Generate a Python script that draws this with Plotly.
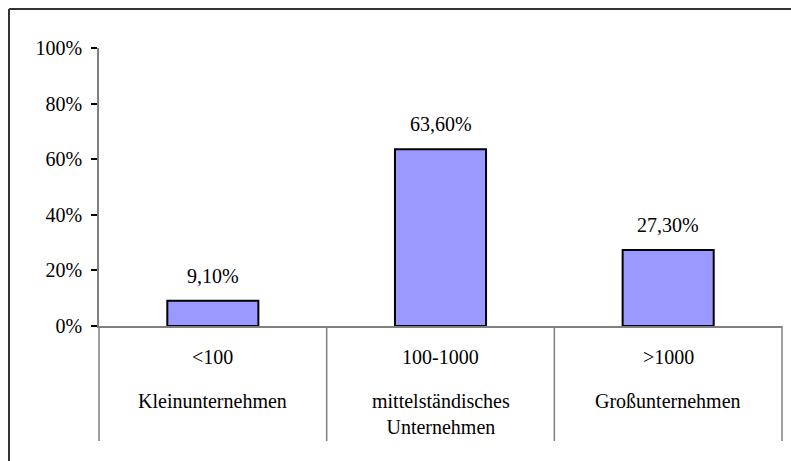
import plotly.graph_objects as go

# Unternehmensgröße (Mitarbeiterzahl) und Anteil in Prozent
size_ranges = ["<100", "100-1000", ">1000"]
company_types = ["Kleinunternehmen", "mittelständisches<br>Unternehmen", "Großunternehmen"]
shares = [9.1, 63.6, 27.3]
y_ticks = [0, 20, 40, 60, 80, 100]

FONT = "Times New Roman, Liberation Serif, serif"
AXIS_GRAY = "#808080"

W, H = 791, 461
M_L, M_R, M_T, M_B = 99, 9, 48, 135
plot_w = W - M_L - M_R
plot_h = H - M_T - M_B
n_cat = len(shares)

def de_percent(v):
    return f"{v:.2f}".replace(".", ",") + "%"

fig = go.Figure(
    go.Bar(
        x=list(range(n_cat)),
        y=shares,
        width=0.4,
        marker=dict(color="#9999FF", line=dict(color="black", width=2)),
        hoverinfo="skip",
    )
)

annotations = []
for i, v in enumerate(shares):
    annotations.append(dict(
        x=i, y=v, xref="x", yref="y", text=de_percent(v), showarrow=False,
        yanchor="middle", yshift=25, font=dict(family=FONT, size=20, color="black"),
    ))
    annotations.append(dict(
        x=i, y=0, xref="x", yref="paper", text=size_ranges[i], showarrow=False,
        yanchor="middle", yshift=-31, font=dict(family=FONT, size=20, color="black"),
    ))
    annotations.append(dict(
        x=i, y=0, xref="x", yref="paper", text=company_types[i], showarrow=False,
        yanchor="top", yshift=-62, align="center",
        font=dict(family=FONT, size=20, color="black"),
    ))

shapes = []
# category separators below the axis (category boundaries in paper units)
sep_bottom = -(441 - (H - M_B)) / plot_h
for k in range(n_cat + 1):
    shapes.append(dict(
        type="line", xref="paper", yref="paper", x0=k / n_cat, x1=k / n_cat,
        y0=0, y1=sep_bottom, line=dict(color=AXIS_GRAY, width=1.5),
    ))
# outer frame (top and left edges)
frame_x = -(M_L - 9) / plot_w
frame_y = 1 + (M_T - 9) / plot_h
right_edge = 1 + M_R / plot_w
bottom_edge = -M_B / plot_h
shapes.append(dict(
    type="line", xref="paper", yref="paper", x0=frame_x, x1=right_edge,
    y0=frame_y, y1=frame_y, line=dict(color="#333333", width=2),
))
shapes.append(dict(
    type="line", xref="paper", yref="paper", x0=frame_x, x1=frame_x,
    y0=frame_y, y1=bottom_edge, line=dict(color="#333333", width=2),
))

fig.update_layout(
    width=W, height=H,
    margin=dict(l=M_L, r=M_R, t=M_T, b=M_B, pad=0),
    paper_bgcolor="white", plot_bgcolor="white",
    showlegend=False,
    font=dict(family=FONT, size=20, color="black"),
    annotations=annotations,
    shapes=shapes,
    xaxis=dict(
        range=[-0.5, n_cat - 0.5], showticklabels=False, ticks="",
        showgrid=False, zeroline=False, showline=True,
        linecolor=AXIS_GRAY, linewidth=1.5, fixedrange=True,
    ),
    yaxis=dict(
        range=[0, 100], tickvals=y_ticks, ticktext=[f"{t}%" for t in y_ticks],
        ticks="outside", ticklen=6, tickwidth=1.5, tickcolor="black",
        ticklabelstandoff=5,
        showgrid=False, zeroline=False, showline=True,
        linecolor=AXIS_GRAY, linewidth=1.5, fixedrange=True,
        tickfont=dict(family=FONT, size=20, color="black"),
    ),
)

fig.write_html(
    "out.html",
    config={"displayModeBar": False},
    post_script="document.body.style.margin='0';document.body.style.overflow='hidden';",
)
